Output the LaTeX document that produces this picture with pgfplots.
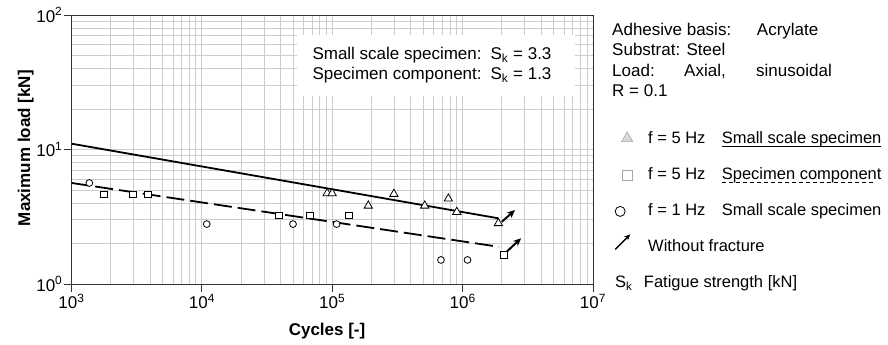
\documentclass[border=0pt]{standalone}
\usepackage{fontspec}
\setmainfont{Liberation Sans}
\usepackage{pgfplots}
\pgfplotsset{compat=1.18}
\usetikzlibrary{arrows.meta}
\newsavebox\ulbox
\newcommand\myul[1]{\sbox\ulbox{#1}\rlap{\rule[-3pt]{\wd\ulbox}{1pt}}\usebox\ulbox}
\newcommand\mydul[1]{\sbox\ulbox{#1}\rlap{\hbox to \wd\ulbox{\leaders\hbox to 7pt{\rule[-3pt]{4.5pt}{1pt}\hss}\hfill}}\usebox\ulbox}

\begin{document}
\fontsize{17}{20}\selectfont
\begin{tikzpicture}
\path (0pt,0pt) rectangle (888pt,341pt);
\begin{axis}[
  at={(71.5pt,57pt)}, anchor=south west,
  scale only axis, width=521.5pt, height=269pt,
  xmode=log, ymode=log,
  xmin=1e3, xmax=1e7, ymin=1, ymax=100,
  xtick={1e3,1e4,1e5,1e6,1e7},
  xticklabels={10\textsuperscript{3},10\textsuperscript{4},10\textsuperscript{5},10\textsuperscript{6},10\textsuperscript{7}},
  ytick={1,10,100},
  yticklabels={10\textsuperscript{0},10\textsuperscript{1},10\textsuperscript{2}},
  minor xtick={2e3,3e3,4e3,5e3,6e3,7e3,8e3,9e3,2e4,3e4,4e4,5e4,6e4,7e4,8e4,9e4,2e5,3e5,4e5,5e5,6e5,7e5,8e5,9e5,2e6,3e6,4e6,5e6,6e6,7e6,8e6,9e6},
  minor ytick={2,3,4,5,6,7,8,9,20,30,40,50,60,70,80,90},
  grid=both,
  major grid style={gray!40, line width=0.9pt},
  minor grid style={gray!40, line width=0.9pt},
  tick pos=left,
  tick align=outside, major tick length=8pt, minor tick length=0pt,
  major tick style={black!80, line width=0.9pt},
  axis line style={black!80, line width=1pt},
  ticklabel style={font=\fontsize{17}{20}\selectfont},
  xticklabel style={inner sep=2pt},
  yticklabel style={inner sep=1pt},
  xlabel={\textbf{Cycles [-]}},
  ylabel={\textbf{Maximum load [kN]}},
  xlabel style={at={(axis description cs:0.49,-0.175)}, anchor=center, font=\fontsize{17}{20}\selectfont},
  ylabel style={at={(axis description cs:-0.088,0.505)}, anchor=center, font=\fontsize{17}{20}\selectfont},
  legend style={at={(axis description cs:1.0402,0.568)}, anchor=north west,
    draw=none, fill=none, inner sep=0pt, row sep=20pt, column sep=8pt,
    font=\fontsize{16.5}{20}\selectfont,
    nodes={inner sep=0pt, text height=12.5pt, text depth=3.5pt}},
  legend cell align=left,
]
% S-N lines
\addplot[black, line width=1.8pt, forget plot] coordinates {(1e3,11.05) (1.88e6,3.08)};
\addplot[black, line width=1.8pt, dash pattern=on 18pt off 6pt, forget plot] coordinates {(1e3,5.64) (1.9e6,1.89)};

% f = 5 Hz small scale specimen
\addplot[only marks, mark=triangle*, mark size=4.8pt, mark options={draw=black, fill=white, line width=0.8pt}, forget plot]
  coordinates {(91400,4.72) (99800,4.72) (189000,3.82) (297000,4.67) (512000,3.82) (777000,4.31) (902000,3.43) (1.88e6,2.83)};
% f = 5 Hz specimen component
\addplot[only marks, mark=square*, mark size=3.3pt, mark options={draw=black, fill=white, line width=0.8pt}, forget plot]
  coordinates {(1770,4.64) (2960,4.64) (3850,4.64) (39100,3.24) (67300,3.24) (134000,3.24) (2.08e6,1.64)};
% f = 1 Hz small scale specimen
\addplot[only marks, mark=*, mark size=3.4pt, mark options={draw=black, fill=white, line width=0.8pt}, forget plot]
  coordinates {(1370,5.64) (10900,2.79) (50000,2.79) (108000,2.79) (682000,1.51) (1.09e6,1.51)};
% run-outs (without fracture)
\addplot[black, line width=2pt, -{Stealth[length=8pt,width=7pt]}, forget plot] coordinates {(2.0e6,2.90) (2.52e6,3.55)};
\addplot[black, line width=2pt, -{Stealth[length=8pt,width=7pt]}, forget plot] coordinates {(2.18e6,1.74) (2.81e6,2.19)};

% legend
\addlegendimage{legend image code/.code={\path[draw=none,fill=none] (-13pt,-6pt) rectangle (13pt,6pt);
  \draw[overlay, draw=gray!70, fill=gray!30, line width=0.6pt] plot[only marks, mark=triangle*, mark size=6.5pt] coordinates {(0pt,1pt)};}}
\addlegendentry{\makebox[73.7pt][l]{f = 5 Hz}\myul{Small scale specimen}}
\addlegendimage{legend image code/.code={\path[draw=none,fill=none] (-13pt,-6pt) rectangle (13pt,6pt);
  \draw[overlay, draw=gray!70, fill=white, line width=0.6pt] plot[only marks, mark=square*, mark size=4.8pt] coordinates {(0pt,0pt)};}}
\addlegendentry{\makebox[73.7pt][l]{f = 5 Hz}\mydul{Specimen component}}
\addlegendimage{legend image code/.code={\path[draw=none,fill=none] (-13pt,-6pt) rectangle (13pt,6pt);
  \draw[overlay, draw=black, fill=white, line width=0.8pt] plot[only marks, mark=*, mark size=5pt] coordinates {(-7pt,0pt)};}}
\addlegendentry{\makebox[73.7pt][l]{f = 1 Hz}Small scale specimen}
\addlegendimage{legend image code/.code={\path[draw=none,fill=none] (-13pt,-6pt) rectangle (13pt,6pt);
  \draw[overlay, black, line width=1.5pt, -{Stealth[length=6pt,width=5.5pt]}] (-12pt,-2pt) -- (3pt,13pt);}}
\addlegendentry{Without fracture}
\addlegendimage{legend image code/.code={\path[draw=none,fill=none] (-13pt,-6pt) rectangle (13pt,6pt);}}
\addlegendentry{\hspace*{-33pt}S\textsubscript{k}\hspace{11.5pt}Fatigue strength [kN]}

\node[fill=white, inner xsep=15.5pt, inner ysep=10.5pt, anchor=north west] at (axis description cs:0.432,0.926)
 {\makebox[247pt][l]{\begin{tabular}{@{}l@{\hspace{9pt}}l@{}}Small scale specimen: & S\textsubscript{k} = 3.3\\ Specimen component: & S\textsubscript{k} = 1.3\end{tabular}}};
\end{axis}
\node[anchor=base west, inner sep=0pt] at (612pt,305pt) {Adhesive basis:};
\node[anchor=base west, inner sep=0pt] at (756.7pt,305pt) {Acrylate};
\node[anchor=base west, inner sep=0pt] at (612pt,285pt) {Substrat: Steel};
\node[anchor=base west, inner sep=0pt] at (612pt,264.5pt) {Load:};
\node[anchor=base west, inner sep=0pt] at (684pt,264.5pt) {Axial,};
\node[anchor=base west, inner sep=0pt] at (756pt,264.5pt) {sinusoidal};
\node[anchor=base west, inner sep=0pt] at (612pt,244.5pt) {R = 0.1};
\end{tikzpicture}
\end{document}
